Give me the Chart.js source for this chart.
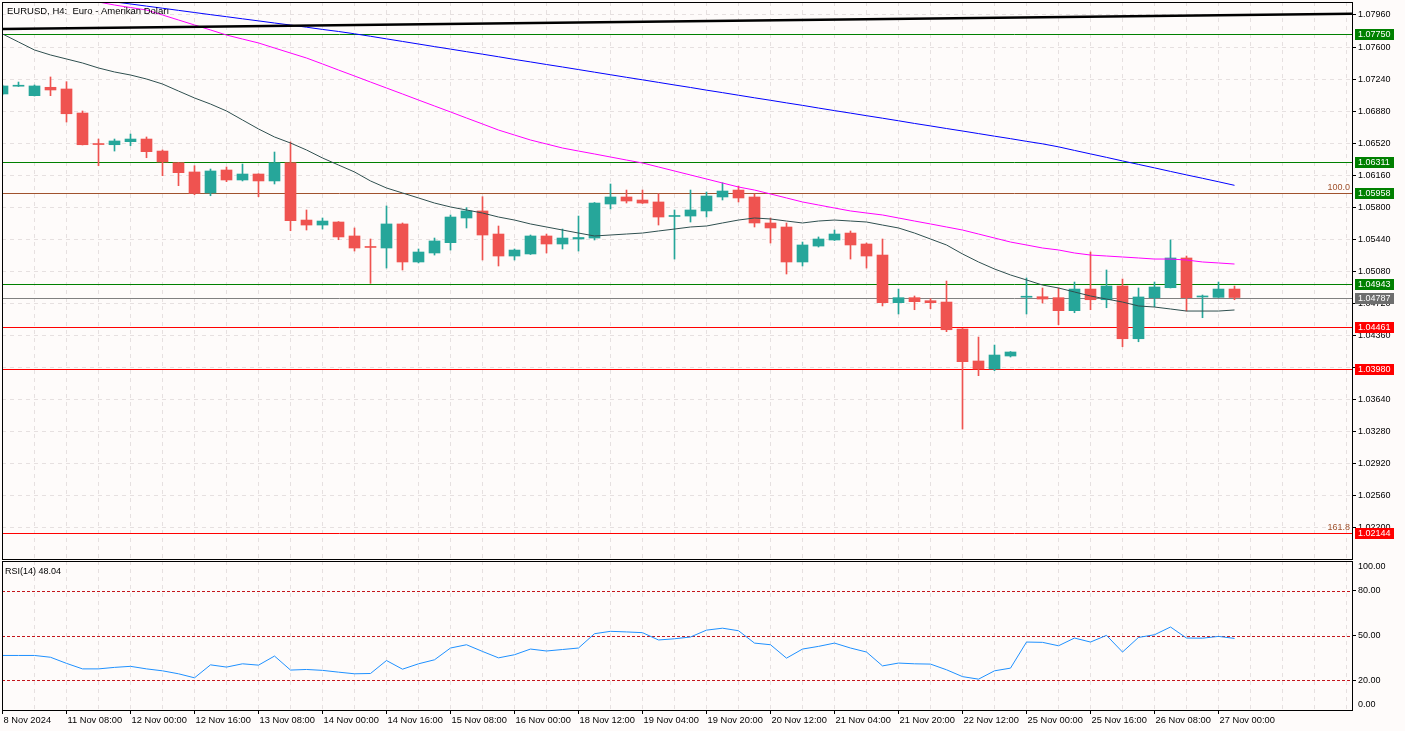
<!DOCTYPE html>
<html>
<head>
<meta charset="utf-8">
<script src="https://cdn.jsdelivr.net/npm/chart.js@4.4.1/dist/chart.umd.min.js"></script>
<style>
  html, body { margin: 0; padding: 0; background: #fefbfa; }
  #wrap { position: relative; width: 1405px; height: 731px; overflow: hidden; }
  canvas { position: absolute; left: 0; }
  #main { top: 0; }
  #rsi { top: 559px; }
</style>
</head>
<body>
<div id="wrap">
  <canvas id="main" width="1405" height="560"></canvas>
  <canvas id="rsi" width="1405" height="172"></canvas>
</div>
<script>
// EURUSD H4, 8 Nov 16:00 .. 27 Nov 04:00 (78 bars)
var barOpen = [1.07073,1.07160,1.07054,1.07148,1.07129,1.06859,1.06511,1.06503,1.06537,1.06567,
  1.06432,1.06301,1.06197,1.05961,1.06219,1.06107,1.06174,1.06096,1.06301,1.05657,
  1.05601,1.05635,1.05478,1.05354,1.05343,1.05613,1.05186,1.05287,1.05403,1.05680,
  1.05759,1.05500,1.05253,1.05276,1.05478,1.05388,1.05444,1.05455,1.05837,1.05916,
  1.05882,1.05860,1.05697,1.05702,1.05759,1.05916,1.05994,1.05916,1.05624,1.05579,
  1.05186,1.05365,1.05433,1.05511,1.05388,1.05264,1.04729,1.04785,1.04751,1.04736,
  1.04433,1.04074,1.03984,1.04130,1.04790,1.04796,1.04785,1.04639,1.04882,1.04762,
  1.04916,1.04324,1.04785,1.04897,1.05231,1.04793,1.04789,1.04882];
var barHigh = [1.07174,1.07207,1.07174,1.07264,1.07211,1.06882,1.06567,1.06567,1.06623,1.06590,
  1.06444,1.06303,1.06267,1.06230,1.06253,1.06286,1.06176,1.06421,1.06534,1.05770,
  1.05680,1.05640,1.05568,1.05444,1.05815,1.05624,1.05332,1.05455,1.05714,1.05796,
  1.05919,1.05590,1.05332,1.05489,1.05500,1.05556,1.05702,1.05854,1.06062,1.05994,
  1.05994,1.05953,1.05770,1.05994,1.05972,1.06076,1.06039,1.05950,1.05680,1.05624,
  1.05410,1.05467,1.05545,1.05534,1.05399,1.05444,1.04882,1.04804,1.04774,1.04972,
  1.04439,1.04343,1.04253,1.04180,1.05006,1.04894,1.04894,1.04961,1.05298,1.05096,
  1.04995,1.04894,1.04961,1.05433,1.05253,1.04815,1.04961,1.04916];
var barLow = [1.07061,1.07157,1.07050,1.07054,1.06758,1.06500,1.06267,1.06432,1.06492,1.06357,
  1.06155,1.06043,1.05942,1.05930,1.06088,1.06096,1.05919,1.06062,1.05537,1.05545,
  1.05556,1.05436,1.05309,1.04946,1.05118,1.05096,1.05175,1.05264,1.05320,1.05568,
  1.05208,1.05141,1.05208,1.05270,1.05287,1.05332,1.05309,1.05433,1.05781,1.05848,
  1.05843,1.05601,1.05219,1.05635,1.05691,1.05882,1.05860,1.05579,1.05399,1.05051,
  1.05141,1.05354,1.05427,1.05219,1.05118,1.04692,1.04602,1.04650,1.04661,1.04403,
  1.03310,1.03909,1.03965,1.04119,1.04602,1.04725,1.04481,1.04616,1.04650,1.04672,
  1.04234,1.04290,1.04684,1.04894,1.04635,1.04560,1.04787,1.04762];
var barClose = [1.07163,1.07165,1.07163,1.07118,1.06851,1.06503,1.06505,1.06545,1.06567,1.06425,
  1.06309,1.06189,1.05957,1.06208,1.06107,1.06174,1.06096,1.06301,1.05650,1.05601,
  1.05646,1.05467,1.05343,1.05349,1.05613,1.05186,1.05298,1.05422,1.05691,1.05759,
  1.05489,1.05253,1.05320,1.05478,1.05388,1.05455,1.05461,1.05848,1.05916,1.05871,
  1.05848,1.05691,1.05708,1.05770,1.05927,1.05983,1.05905,1.05624,1.05568,1.05186,
  1.05377,1.05444,1.05500,1.05377,1.05253,1.04729,1.04785,1.04740,1.04729,1.04425,
  1.04066,1.03984,1.04141,1.04175,1.04798,1.04770,1.04639,1.04882,1.04762,1.04916,
  1.04324,1.04793,1.04905,1.05231,1.04785,1.04804,1.04882,1.04787];

// moving averages (dark slate, magenta, blue)
var maFast = [1.07747,1.07657,1.07567,1.07511,1.07466,1.07421,1.07365,1.07320,1.07286,1.07241,
  1.07185,1.07106,1.07028,1.06960,1.06882,1.06781,1.06680,1.06590,1.06522,1.06444,
  1.06354,1.06275,1.06197,1.06096,1.06017,1.05961,1.05905,1.05848,1.05804,1.05770,
  1.05736,1.05691,1.05657,1.05613,1.05579,1.05545,1.05511,1.05478,1.05489,1.05500,
  1.05511,1.05534,1.05556,1.05579,1.05590,1.05624,1.05657,1.05680,1.05669,1.05646,
  1.05624,1.05646,1.05657,1.05646,1.05635,1.05601,1.05568,1.05511,1.05444,1.05377,
  1.05276,1.05186,1.05107,1.05040,1.04984,1.04927,1.04894,1.04849,1.04804,1.04770,
  1.04736,1.04692,1.04680,1.04658,1.04635,1.04635,1.04635,1.04647];
var maMid = [1.08376,1.08331,1.08286,1.08241,1.08196,1.08151,1.08106,1.08072,1.08044,1.08016,
  1.07960,1.07904,1.07848,1.07792,1.07735,1.07690,1.07646,1.07589,1.07533,1.07477,
  1.07410,1.07342,1.07275,1.07207,1.07140,1.07073,1.07005,1.06938,1.06871,1.06803,
  1.06736,1.06668,1.06612,1.06556,1.06511,1.06466,1.06432,1.06399,1.06365,1.06331,
  1.06298,1.06253,1.06208,1.06163,1.06118,1.06073,1.06028,1.05994,1.05950,1.05905,
  1.05860,1.05826,1.05792,1.05759,1.05736,1.05714,1.05680,1.05646,1.05613,1.05579,
  1.05545,1.05500,1.05455,1.05410,1.05377,1.05343,1.05321,1.05287,1.05264,1.05253,
  1.05242,1.05231,1.05219,1.05219,1.05208,1.05186,1.05175,1.05163];
var maSlow = [1.08275,1.08252,1.08230,1.08207,1.08185,1.08162,1.08140,1.08107,1.08084,1.08060,
  1.08036,1.08012,1.07988,1.07964,1.07941,1.07917,1.07894,1.07870,1.07847,1.07823,
  1.07798,1.07775,1.07749,1.07721,1.07692,1.07663,1.07634,1.07605,1.07577,1.07548,
  1.07520,1.07491,1.07461,1.07433,1.07404,1.07376,1.07347,1.07318,1.07289,1.07260,
  1.07232,1.07203,1.07174,1.07146,1.07116,1.07088,1.07059,1.07030,1.07002,1.06973,
  1.06945,1.06915,1.06886,1.06858,1.06829,1.06801,1.06772,1.06742,1.06714,1.06685,
  1.06657,1.06628,1.06599,1.06571,1.06541,1.06513,1.06479,1.06439,1.06400,1.06361,
  1.06321,1.06282,1.06243,1.06203,1.06164,1.06126,1.06087,1.06047];

var rsi14 = [36.6,36.6,36.6,35.4,31.3,27.6,27.6,28.6,29.3,27.6,
  26.3,24.3,21.6,30.3,28.8,31.0,30.1,36.2,26.8,27.2,
  26.6,25.4,24.3,24.5,33.2,27.4,31.0,33.7,41.6,43.8,
  39.3,35.0,37.1,40.9,39.6,40.6,41.6,51.2,52.8,52.4,
  51.9,47.0,47.8,49.0,53.6,54.9,53.2,44.9,43.8,34.8,
  40.9,42.7,44.9,41.6,38.9,29.6,31.5,31.0,30.8,27.0,
  22.4,20.7,26.3,28.1,45.6,45.4,43.1,48.3,45.6,50.1,
  38.9,48.7,50.5,55.7,48.3,48.2,49.4,48.04];

// one label every 4 bars
var xLabels = ['8 Nov 2024','11 Nov 08:00','12 Nov 00:00','12 Nov 16:00','13 Nov 08:00',
  '14 Nov 00:00','14 Nov 16:00','15 Nov 08:00','16 Nov 00:00','18 Nov 12:00',
  '19 Nov 04:00','19 Nov 20:00','20 Nov 12:00','21 Nov 04:00','21 Nov 20:00',
  '22 Nov 12:00','25 Nov 00:00','25 Nov 16:00','26 Nov 08:00','27 Nov 00:00'];
var priceTicks = [1.0796,1.0760,1.0724,1.0688,1.0652,1.0616,1.0580,1.0544,1.0508,
  1.0472,1.0436,1.0400,1.0364,1.0328,1.0292,1.0256,1.0220];
var rsiTicks = [0, 20, 50, 80, 100];
var rsiLevels = [80, 50, 20];

// horizontal levels
var levelPrices = [1.07750, 1.06311, 1.05958, 1.04943, 1.04787, 1.04461, 1.03980, 1.02144];
var fibTexts = ['100.0', '161.8'];
var fibPrices = [1.05958, 1.02144];
var trendBars = [0, 84.34];
var trendPrices = [1.07803, 1.07975];

var titleText = 'EURUSD, H4:  Euro - Amerikan Doları';
var rsiTitle = 'RSI(14) 48.04';

// ---- styles ----
var BULL = '#26a69a', BEAR = '#ef5350';
var GRID = '#e6e0e0';
var FONT = "'Liberation Sans', Arial, sans-serif";
var levelLineColors = ['#008000','#008000','#a0522d','#008000','#808080','#ff0000','#ff0000','#ff0000'];
var levelBoxColors = ['#008000','#008000','#008000','#008000','#6e6e6e','#ff0000','#ff0000','#ff0000'];

Chart.defaults.font.family = FONT;
Chart.defaults.font.size = 9;
Chart.defaults.color = '#000';
Chart.defaults.animation = false;

var X_MIN = -0.03125;
var X_MAX = X_MIN + 1350 / 16;
var Y_MAX = 1.08106, Y_MIN = 1.01850;

function pts(arr) {
  return arr.map(function(v, i) { return {x: i, y: v}; });
}
function candleColors() {
  return barOpen.map(function(o, i) { return barClose[i] >= o ? BULL : BEAR; });
}
function evenTicks(s) {
  var t = [];
  for (var v = 0; v <= 84; v += 2) t.push({value: v});
  s.ticks = t;
}
// crisp 1px horizontal line at a scale value
function hLine(ctx, ca, ys, v, color, dash) {
  var y = Math.round(ys.getPixelForValue(v)) + 0.5;
  ctx.strokeStyle = color;
  ctx.lineWidth = 1;
  ctx.setLineDash(dash || []);
  ctx.beginPath();
  ctx.moveTo(ca.left, y);
  ctx.lineTo(ca.right, y);
  ctx.stroke();
}

var datasets = [];
var cc = candleColors();
datasets.push({
  type: 'bar', grouped: false, order: 4, barThickness: 1,
  data: barLow.map(function(l, i) { return {x: i, y: [l, barHigh[i]]}; }),
  backgroundColor: cc, borderWidth: 0
});
datasets.push({
  type: 'bar', grouped: false, order: 3, barThickness: 11, minBarLength: 1,
  data: barOpen.map(function(o, i) { return {x: i, y: [o, barClose[i]]}; }),
  backgroundColor: cc, borderWidth: 0
});

[[maSlow, '#0000ff'], [maMid, '#ff00ff'], [maFast, '#2f4f4f']].forEach(function(m) {
  datasets.push({
    type: 'line', data: pts(m[0]), borderColor: m[1], borderWidth: 1,
    pointRadius: 0, tension: 0, order: 1
  });
});

datasets.push({
  type: 'line', order: 0, pointRadius: 0, borderWidth: 2.5, borderColor: '#000',
  data: trendBars.map(function(b, i) { return {x: b, y: trendPrices[i]}; })
});

var mainDecor = {
  id: 'mainDecor',
  beforeDatasetsDraw: function(chart) {
    var ctx = chart.ctx, ca = chart.chartArea, ys = chart.scales.y;
    ctx.save();
    levelPrices.forEach(function(p, i) { hLine(ctx, ca, ys, p, levelLineColors[i]); });
    ctx.restore();
  },
  afterDraw: function(chart) {
    var ctx = chart.ctx, ca = chart.chartArea, ys = chart.scales.y;
    ctx.save();
    ctx.strokeStyle = '#000';
    ctx.lineWidth = 1;
    ctx.strokeRect(ca.left + 0.5, ca.top + 0.5, ca.right - ca.left, ca.bottom - ca.top);

    ctx.fillStyle = '#000';
    ctx.font = '9.5px ' + FONT;
    ctx.textAlign = 'left';
    ctx.textBaseline = 'alphabetic';
    ctx.fillText(titleText, 7, 14);

    ctx.font = '9px ' + FONT;
    ctx.fillStyle = '#a0522d';
    ctx.textAlign = 'right';
    fibPrices.forEach(function(p, i) {
      ctx.fillText(fibTexts[i], ca.right - 2, Math.round(ys.getPixelForValue(p)) - 3);
    });

    ctx.textAlign = 'left';
    ctx.textBaseline = 'middle';
    levelPrices.forEach(function(p, i) {
      var y = Math.round(ys.getPixelForValue(p));
      ctx.fillStyle = levelBoxColors[i];
      ctx.fillRect(ca.right + 3, y - 5, 39, 11);
      ctx.fillStyle = '#fff';
      ctx.fillText(p.toFixed(5), ca.right + 6, y + 0.5);
    });
    ctx.restore();
  }
};

new Chart(document.getElementById('main'), {
  type: 'line',
  data: {datasets: datasets},
  plugins: [mainDecor],
  options: {
    responsive: false, devicePixelRatio: 1, events: [],
    layout: {padding: {left: 2, top: 2, right: 0, bottom: 1}},
    plugins: {legend: {display: false}, tooltip: {enabled: false}},
    scales: {
      x: {
        type: 'linear', min: X_MIN, max: X_MAX, offset: false,
        afterBuildTicks: evenTicks,
        afterFit: function(s) { s.height = 0; s.paddingLeft = 0; s.paddingRight = 0; },
        ticks: {display: false, autoSkip: false},
        grid: {color: GRID, drawTicks: false, offset: false},
        border: {display: false, dash: [4, 4]}
      },
      y: {
        position: 'right', min: Y_MIN, max: Y_MAX,
        afterBuildTicks: function(s) { s.ticks = priceTicks.map(function(v) { return {value: v}; }); },
        afterFit: function(s) { s.width = 53; s.paddingTop = 0; s.paddingBottom = 0; },
        ticks: {
          autoSkip: false, padding: 2, font: {size: 9},
          callback: function(v) { return Number(v).toFixed(5); }
        },
        grid: {color: GRID, tickColor: '#000', tickLength: 4, tickBorderDash: [4, 0]},
        border: {display: false, dash: [4, 4]}
      }
    }
  }
});

// ---- RSI panel ----
var rsiSets = [{
  type: 'line', data: pts(rsi14), borderColor: '#1e90ff', borderWidth: 1,
  pointRadius: 0, tension: 0, order: 0
}];

var rsiDecor = {
  id: 'rsiDecor',
  beforeDatasetsDraw: function(chart) {
    var ctx = chart.ctx, ca = chart.chartArea, ys = chart.scales.y;
    ctx.save();
    rsiLevels.forEach(function(v) { hLine(ctx, ca, ys, v, '#c4161c', [3, 2]); });
    ctx.restore();
  },
  afterDraw: function(chart) {
    var ctx = chart.ctx, ca = chart.chartArea, ys = chart.scales.y;
    ctx.save();
    ctx.strokeStyle = '#000';
    ctx.lineWidth = 1;
    ctx.strokeRect(ca.left + 0.5, ca.top + 0.5, ca.right - ca.left, ca.bottom - ca.top);
    ctx.fillStyle = '#000';
    ctx.font = '9px ' + FONT;
    ctx.textAlign = 'left';
    ctx.textBaseline = 'alphabetic';
    ctx.fillText(rsiTitle, 5, 15);
    ctx.textBaseline = 'middle';
    ctx.fillText((100).toFixed(2), ca.right + 6, ys.getPixelForValue(100) + 6);
    ctx.fillText((0).toFixed(2), ca.right + 6, ys.getPixelForValue(0) - 5);
    ctx.restore();
  }
};

new Chart(document.getElementById('rsi'), {
  type: 'line',
  data: {datasets: rsiSets},
  plugins: [rsiDecor],
  options: {
    responsive: false, devicePixelRatio: 1, events: [],
    layout: {padding: {left: 2, top: 2, right: 0, bottom: 0}},
    plugins: {legend: {display: false}, tooltip: {enabled: false}},
    scales: {
      x: {
        type: 'linear', min: X_MIN, max: X_MAX, offset: false,
        afterBuildTicks: evenTicks,
        afterFit: function(s) { s.height = 21; s.paddingLeft = 0; s.paddingRight = 0; },
        ticks: {
          autoSkip: false, maxRotation: 0, minRotation: 0, align: 'start',
          labelOffset: 1, padding: 1, font: {size: 9.3},
          callback: function(v) {
            return (v % 4 === 0 && xLabels[v / 4]) ? xLabels[v / 4] : '';
          }
        },
        grid: {
          color: GRID, tickLength: 4, tickBorderDash: [4, 0], offset: false,
          tickColor: function(c) {
            var v = c.tick ? c.tick.value : -1;
            return (v % 4 === 0 && xLabels[v / 4]) ? '#000' : 'rgba(0,0,0,0)';
          }
        },
        border: {display: false, dash: [4, 4]}
      },
      y: {
        position: 'right', min: 0, max: 100,
        afterBuildTicks: function(s) { s.ticks = rsiTicks.map(function(v) { return {value: v}; }); },
        afterFit: function(s) { s.width = 53; s.paddingTop = 0; s.paddingBottom = 0; },
        ticks: {
          autoSkip: false, padding: 2, font: {size: 9},
          callback: function(v) { return (v === 0 || v === 100) ? '' : Number(v).toFixed(2); }
        },
        grid: {
          color: 'rgba(0,0,0,0)', tickLength: 4, tickBorderDash: [4, 0],
          tickColor: function(c) {
            var v = c.tick ? c.tick.value : 0;
            return (v === 0 || v === 100) ? 'rgba(0,0,0,0)' : '#000';
          }
        },
        border: {display: false}
      }
    }
  }
});
</script>
</body>
</html>
